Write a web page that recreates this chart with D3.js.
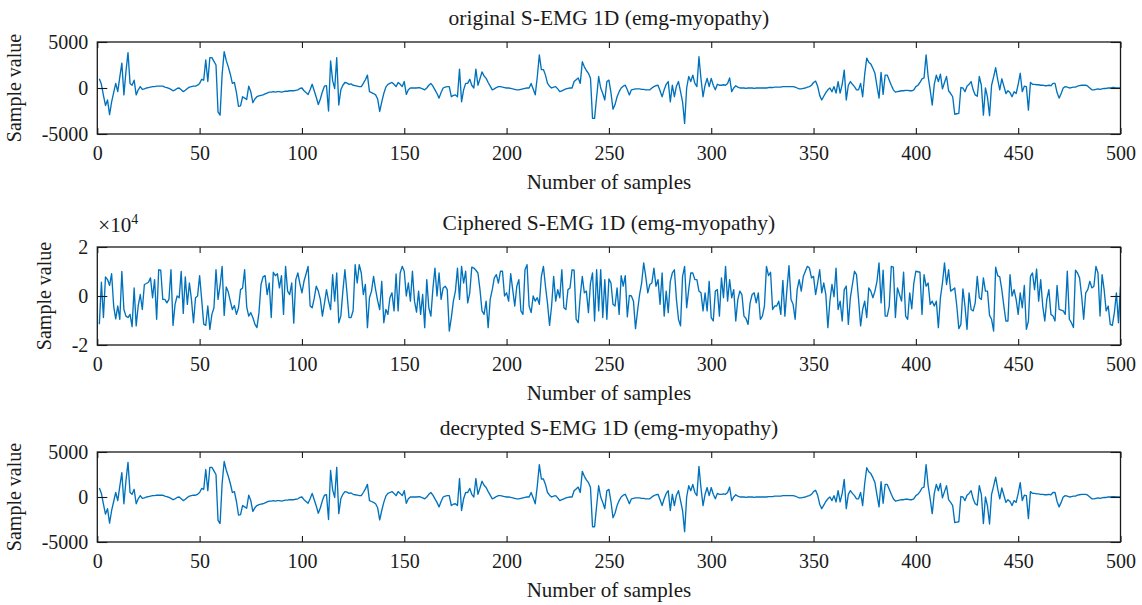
<!DOCTYPE html>
<html>
<head>
<meta charset="utf-8">
<script src="https://cdn.jsdelivr.net/npm/d3@7"></script>
<style>
  body { margin: 0; background: #fff; }
  svg { display: block; }
  text { font-family: "Liberation Serif", "Times New Roman", serif; fill: #1a1a1a; }
</style>
</head>
<body>
<svg id="chart" width="1142" height="605"></svg>
<script>
// Surface EMG record (emg-myopathy), samples 1..500
const originalSignal = [
  1000, 400, -800, -1900, -1300, -2900, -1500, -500, 500, -400, 1200, 2700, -750, 1800, 3850, 500, 300, 850, -750, -200, 150, -150, -100, 0, 50,
  100, 150, 150, 200, 200, 200, 200, 100, 50, -50, -150, -300, -200, -50, 0, -200, -400, -250, -50, 100, 150, 200, 200, 300, 500,
  950, 850, 3050, 700, 3300, 3300, 2900, 2500, -2600, -2950, 1500, 3950, 3000, 2300, 1500, 500, 600, -500, -2000, -1950, -950, -1100, -1250, 200, -400,
  -1600, -1200, -950, -850, -800, -750, -650, -550, -450, -450, -400, -450, -400, -400, -450, -400, -350, -350, -300, -300, -300, -250, -200, -50, 0,
  -300, -500, -700, -200, 400, -300, -1000, -1800, -1200, -400, 200, 250, -2500, 2950, 800, -50, 3300, -1850, -200, 300, 600, 550, 400, 450, 300,
  250, 200, 150, 150, 500, 900, 1400, -400, -500, -600, -750, -1200, -2550, -1500, -600, 100, 400, 500, 600, 400, 150, 600, 400, 150, 700,
  -700, -200, 0, 0, 0, 0, 50, 0, -100, -200, 0, 300, 500, 200, -200, -600, -1100, -500, 0, 100, 150, 150, -950, -800, -750,
  -950, 2050, -1500, -200, 500, 500, 950, 300, 0, 2050, 300, 1000, 1750, 1300, 1050, 600, 200, -200, -100, 50, 150, 150, 100, 50, 0,
  0, -50, -100, -150, -200, -200, -150, -100, -50, 0, 0, 500, -100, -750, 1200, 3600, 2000, 2000, 1400, 500, 200, 0, 100, 150, -100,
  -400, -300, -200, -100, -50, 0, 0, 700, 900, 1100, 500, 2850, 2300, 1900, 1600, 1050, -3300, -3300, -1000, 1250, 0, -600, -1300, 700, 850,
  -500, -2300, -1800, -950, -400, 0, 200, 300, -200, -750, -200, -150, -100, -100, -100, -150, -150, -200, -200, -200, 0, 150, 250, 300, -300,
  -950, -200, 400, 700, -1500, 300, -950, 200, 700, -400, -1500, -3850, 0, 1250, 700, 1400, 500, 150, 3400, 1000, -950, 300, 1050, 150, 1050,
  300, -200, 400, 300, 300, 350, 300, 500, 1100, -400, 0, 250, 100, 0, 0, 0, -50, 0, 0, 0, -50, 0, 0, 0, 0,
  0, 0, 50, 50, 50, 100, 100, 100, 100, 150, 150, 150, 150, 150, 150, 100, 0, -100, -100, -50, 0, 100, 150, 300, 600,
  750, 200, -800, -1300, -900, -500, -200, 0, -400, 150, -550, 700, -550, 400, 1950, -1300, 300, 700, 400, 150, -200, -200, 500, -950, 1500,
  3250, 2800, 2600, 2150, 1600, 200, -1100, 1700, -700, 1400, 1400, 850, 300, -200, -450, -400, -350, -300, -300, -250, -250, -300, -300, -200, 150,
  300, 600, 1000, 1100, 3600, 1250, -200, -1850, 400, 1400, 700, 1500, -100, 600, 1250, -300, -600, -950, -2850, -2800, -2750, 50, 0, -400, 200,
  400, 700, -200, -750, -900, 1250, 300, -2950, 0, -1000, -3000, 300, 1200, 2200, 900, -200, 1000, 200, -600, -300, -500, -950, -400, -600, 400,
  1600, -400, 200, 150, -2400, 600, 400, 400, 350, 350, 300, 300, 250, 250, 300, 250, 500, 500, -500, -1100, -600, 0, 150, 100, 0,
  50, 100, 100, 200, 250, 300, 300, 300, 200, 0, -200, -200, -150, -100, -150, -100, -50, -50, 0, 0, 50, 50, 0, 0, 0
];

// Ciphered record, in units of 10^4
const cipheredSignal = [
  -1.15, 0.56, -0.88, 0.78, 0.67, 0.43, 0.91, -0.41, -0.93, -0.41, -0.95, 1.0, -0.55, -0.82, -0.88, -0.75, -1.25, 0.33, -1.22, -0.39, 0.06, -0.55, 0.47, 0.51, 0.56,
  0.74, -0.07, 0.67, -0.95, 1.07, 1.05, -0.14, -0.14, -0.28, -0.14, 1.07, -1.2, -0.34, 0, -0.07, 1.0, -0.71, 0.78, -0.34, 0.53, -0.14, -1.09, -0.07, 0, 0.83,
  -0.14, -1.15, -1.2, -0.41, -1.36, -0.75, -0.48, 1.07, -0.14, 0.43, 1.21, -0.79, 0.37, 0.16, -0.21, -0.55, -0.39, -0.75, -0.48, 0.26, 0.33, 1.07, -0.44, -0.82, -0.68,
  -0.88, -1.15, -1.29, -0.68, 0.47, 0.78, 0.83, 0.06, 0.53, -0.88, 0.97, 0.83, 0.91, 0.33, 0.83, -0.75, 1.21, 0.2, 0.06, 0.53, -1.11, 0.67, 0.94, 0.5, 0.13,
  0.6, 0.9, 1.21, -0.41, -0.48, -0.1, 0.4, 0.2, -0.14, -0.82, -0.3, 0.26, -0.2, -0.55, 0.87, -0.21, 0.94, -1.09, -0.82, 0.2, 1.07, 0.13, -0.88, -0.88, -0.6,
  1.28, 0.53, 1.28, 0.94, 0.06, 0.47, -1.29, -0.07, 0.2, 0.8, 0.26, -0.2, -0.55, 0.6, -1.09, -0.55, -0.75, -0.07, 0.13, -0.61, 0.9, -0.61, 0.94, 1.21, 1.01,
  0, 0.53, -0.21, 1.01, -0.21, -0.66, 0.2, -0.75, 0.06, -1.29, 0.67, -0.48, -0.82, 0.3, 1.14, 0, 0.94, -0.14, 0.33, 0.4, 0.26, -1.43, -0.88, -0.21, 0.2,
  1.14, -0.14, 1.21, 0.53, 1.01, -0.28, 0.13, 1.18, 1.14, 1.05, 0.94, 0.26, -0.61, -0.75, -0.21, -1.29, -0.14, 0.26, 0.74, 0.87, 0.53, 1.01, 1.01, 0, 0.13,
  -0.21, 0.91, 0.26, -0.41, 0.4, 0.67, -0.61, -0.75, 1.07, 1.28, -0.41, -0.68, 0, -0.21, -0.07, -0.34, 0.8, 1.21, 0.4, -0.3, -1.2, -0.41, 0.8, -0.21, 0.26,
  -0.07, 1.07, -0.48, -0.55, 0.26, 0.33, 1.07, 1.05, -0.95, -1.09, 0, 0.8, 0.13, 0.2, -0.68, 0.53, 0.94, -1.02, 1.07, -0.61, 1.07, -0.88, 0.67, -0.95, 0.7,
  0.53, -0.34, -0.41, 0.33, -0.75, 0.83, 0.4, 0.83, -0.85, 0.02, 0, -0.21, -1.33, -0.61, 0.06, 0.53, 1.35, 0.8, 0.13, 0.47, 0.53, 1.14, 0.4, 0.67, -0.34,
  0.94, -0.82, 0.2, -0.68, 0.6, 0.94, 1.07, -0.14, -0.95, -1.22, 0.8, 1.21, -0.48, 0.26, 0.94, 0.94, 0.67, 0.67, 0.2, 0.13, -0.61, 0.13, -0.61, 0.6, -0.88,
  -1.02, 0.2, 0.26, -0.82, 0.74, -0.07, 1.21, -0.21, 0.67, -0.07, 0.26, -1.02, -0.14, 0.2, 0.06, -0.82, -0.92, -1.16, -0.28, 0.06, 0.13, -0.28, 0.13, -0.95, -0.82,
  -0.41, 1.21, 0.83, 0.97, -0.55, -0.41, -0.41, -0.21, -0.75, 0.64, -0.82, 0.26, 1.24, -0.14, -0.34, -0.95, 0.26, 0.67, 0.2, 0.8, 1.01, 1.21, 1.14, 0.74, 0.8,
  0.06, 0.53, 1.07, 0.13, 0.53, 0.06, -1.29, -0.21, 0.47, -0.03, 1.14, -0.55, -0.21, -1.02, 0.26, 0.4, -1.16, -0.07, 0.47, 1.01, 0.87, -0.14, -1.22, -0.55, -0.21,
  -0.88, 0.33, 0.2, -0.07, 0.2, 0.6, 1.35, -0.28, 1.05, -0.82, -0.82, -0.41, 1.21, 1.18, -0.88, 0.33, 0.06, -0.21, 0.97, -0.82, -0.95, 0.13, -0.52, 0.53, 1.01,
  0.99, 0.97, -0.75, 0.87, 0.4, 0.53, -0.34, -0.21, -0.41, -0.21, -1.29, -0.07, 0.53, 1.35, 0.47, 1.07, 0.2, 0.26, 0.33, -0.41, -1.33, -1.16, 0.29, -0.41, -1.36,
  0.13, -0.55, -0.61, -0.28, 0.8, -0.07, -0.14, 0.74, 0.2, 0.2, -0.79, -0.95, -1.43, 1.18, 0.83, 0.78, 0.26, -0.41, -1.02, -1.02, 0.87, 0, 0.26, -0.14, -0.75,
  0.13, -0.48, 0.43, -1.36, -1.02, 0.8, 0.94, 0.26, 1.1, -0.21, 0.67, -0.41, -1.02, -0.14, 0.26, -0.75, -0.82, -1.02, 0.43, -0.55, -0.58, -0.61, -0.75, 1.01, -0.95,
  -1.09, -1.29, 1.05, 0.94, 0.74, 0, -0.95, 0.13, 0.26, 0.6, 0.33, 0.4, 1.21, 0.94, -0.82, 0.87, 0.26, -0.61, -0.41, -1.16, -1.2, -0.68, 0.13, -1.09, 0.4
];

// Decryption restores the original samples exactly
const decryptedSignal = originalSignal.slice();

const sampleTicks = [0, 50, 100, 150, 200, 250, 300, 350, 400, 450, 500];
const emgTicks = [-5000, 0, 5000];
const cipherTicks = [-2, 0, 2];
const panelTitles = [
  "original S-EMG 1D (emg-myopathy)",
  "Ciphered S-EMG 1D (emg-myopathy)",
  "decrypted S-EMG 1D (emg-myopathy)"
];
const xLabel = "Number of samples";
const yLabel = "Sample value";

// ---- layout ----
const svg = d3.select("#chart");
const left = 97.3, right = 1120.5;
const fontSize = 20;
const titleSize = 21.5;
const lineColor = "#0072bd";
const axisColor = "#1a1a1a";

const panels = [
  { title: panelTitles[0], values: originalSignal, domain: [-5000, 5000], ticks: emgTicks, top: 42, bottom: 134, yLabelX: 21 },
  { title: panelTitles[1], values: cipheredSignal, domain: [-2, 2], ticks: cipherTicks, top: 247, bottom: 345, yLabelX: 51, exponent: true },
  { title: panelTitles[2], values: decryptedSignal, domain: [-5000, 5000], ticks: emgTicks, top: 452, bottom: 542, yLabelX: 21 }
];

const x = d3.scaleLinear().domain([0, 500]).range([left, right]);

function styleAxis(g, showLabels) {
  g.select(".domain").remove();
  g.selectAll(".tick line").attr("stroke", axisColor).attr("stroke-width", 1.1);
  g.selectAll(".tick text")
    .attr("font-family", null)
    .style("font-size", fontSize + "px")
    .attr("fill", axisColor);
  if (!showLabels) g.selectAll(".tick text").remove();
  g.attr("font-family", null).attr("font-size", null);
}

panels.forEach((p, k) => {
  const y = d3.scaleLinear().domain(p.domain).range([p.bottom, p.top]);
  const g = svg.append("g");

  const clipId = "clip" + k;
  svg.append("clipPath").attr("id", clipId)
    .append("rect")
    .attr("x", left).attr("y", p.top)
    .attr("width", right - left).attr("height", p.bottom - p.top);

  // signal trace
  const line = d3.line()
    .x((d, i) => x(i + 1))
    .y(d => y(d));
  g.append("path")
    .datum(p.values)
    .attr("clip-path", `url(#${clipId})`)
    .attr("fill", "none")
    .attr("stroke", lineColor)
    .attr("stroke-width", 1.35)
    .attr("stroke-linejoin", "round")
    .attr("d", line);

  // axes with inward ticks on all four sides
  g.append("g")
    .attr("transform", `translate(0,${p.bottom})`)
    .call(d3.axisBottom(x).tickValues(sampleTicks).tickSize(-6).tickPadding(12).tickFormat(d3.format("d")))
    .call(a => styleAxis(a, true));
  g.append("g")
    .attr("transform", `translate(0,${p.top})`)
    .call(d3.axisTop(x).tickValues(sampleTicks).tickSize(-6))
    .call(a => styleAxis(a, false));
  g.append("g")
    .attr("transform", `translate(${left},0)`)
    .call(d3.axisLeft(y).tickValues(p.ticks).tickSize(-10).tickPadding(9).tickFormat(d => String(d).replace("\u2212", "-")))
    .call(a => styleAxis(a, true));
  g.append("g")
    .attr("transform", `translate(${right},0)`)
    .call(d3.axisRight(y).tickValues(p.ticks).tickSize(-10))
    .call(a => styleAxis(a, false));

  // box
  g.append("rect")
    .attr("x", left).attr("y", p.top)
    .attr("width", right - left).attr("height", p.bottom - p.top)
    .attr("fill", "none")
    .attr("stroke", axisColor)
    .attr("stroke-width", 1.3);

  // title
  g.append("text")
    .attr("x", (left + right) / 2)
    .attr("y", p.top - 17)
    .attr("text-anchor", "middle")
    .style("font-size", titleSize + "px")
    .text(p.title);

  // x label
  g.append("text")
    .attr("x", (left + right) / 2)
    .attr("y", p.bottom + 55)
    .attr("text-anchor", "middle")
    .style("font-size", "21px")
    .text(xLabel);

  // y label
  g.append("text")
    .attr("transform", `translate(${p.yLabelX},${(p.top + p.bottom) / 2}) rotate(-90)`)
    .attr("text-anchor", "middle")
    .style("font-size", fontSize + "px")
    .text(yLabel);

  // exponent marker for the scaled axis
  if (p.exponent) {
    const t = g.append("text")
      .attr("x", left + 1)
      .attr("y", p.top - 15)
      .style("font-size", "21px");
    t.append("tspan").text("\u00d710");
    t.append("tspan").attr("dy", -8).style("font-size", "14px").text("4");
  }
});
</script>
</body>
</html>
